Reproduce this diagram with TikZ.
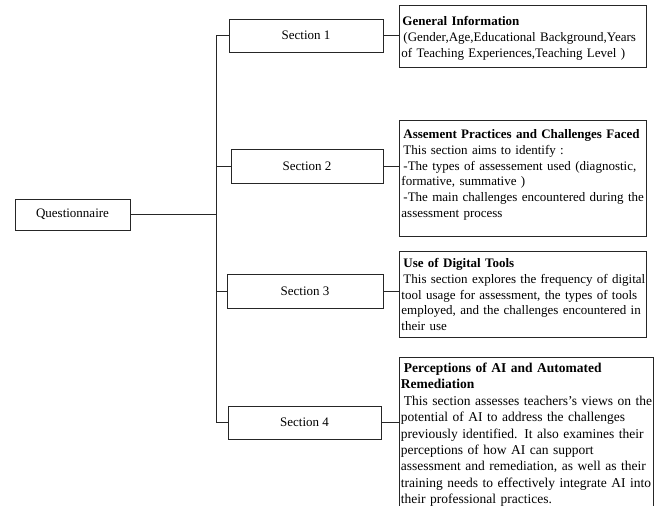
\documentclass[tikz,border=0pt]{standalone}
\usepackage{fontspec}
\setmainfont{Liberation Serif}
\newcommand\oneline[1]{\mbox{#1}}
\begin{document}
\begin{tikzpicture}[x=1pt,y=-1pt,
  every node/.style={font=\fontsize{13}{15.8}\selectfont},
  line/.style={draw=black!85,line width=0.9pt},
  secbox/.style={line, rectangle, inner sep=0pt},
  infobox/.style={line, rectangle, anchor=north west, align=left,
     inner xsep=2pt, inner ysep=0pt}
]
\useasboundingbox (0,0) rectangle (656,506);
% left box
\node[secbox, minimum width=115pt, minimum height=31pt] (q) at (72.5,214.5) {Questionnaire};
% section boxes
\node[secbox, minimum width=154pt, minimum height=33pt] (s1) at (306,35.5) {Section 1};
\node[secbox, minimum width=152pt, minimum height=34pt] (s2) at (307,166) {Section 2};
\node[secbox, minimum width=156pt, minimum height=34pt] (s3) at (305,291) {Section 3};
\node[secbox, minimum width=153pt, minimum height=33pt] (s4) at (304.5,422.5) {Section 4};
% info boxes
\node[infobox, text width=243pt, text height=20pt, text depth=42pt] (g1) at (399,5)
  {\oneline{\hspace*{1pt}\textbf{General Information}}\\
   \oneline{\hspace*{2pt}(Gender,Age,Educational Background,Years}\\
   \oneline{of Teaching Experiences,Teaching Level )}};
\node[infobox, text width=243pt, text height=18pt, text depth=98pt] (g2) at (399,120)
  {\oneline{\hspace*{2pt}\textbf{Assement Practices and Challenges Faced}}\\
   \oneline{\hspace*{2pt}This section aims to identify :}\\
   \oneline{\hspace*{2pt}-The types of assessement used (diagnostic,}\\
   \oneline{formative, summative )}\\
   \oneline{\hspace*{2pt}-The main challenges encountered during the}\\
   \oneline{assessment process}};
\node[infobox, text width=243pt, text height=16pt, text depth=70pt] (g3) at (399,251)
  {\oneline{\hspace*{2pt}\textbf{Use of Digital Tools}}\\
   \oneline{\hspace*{2pt}This section explores the frequency of digital}\\
   \oneline{tool usage for assessment, the types of tools}\\
   \oneline{employed, and the challenges encountered in}\\
   \oneline{their use}};
\node[infobox, font=\fontsize{13.5}{16.4}\selectfont, inner xsep=1.5pt,
      text width=251pt, text height=15pt, text depth=150pt] (g4) at (399,357)
  {\oneline{\hspace*{3pt}\textbf{Perceptions of AI and Automated}}\\
   \oneline{\textbf{Remediation}}\\
   \oneline{\hspace*{3pt}This section assesses teachers's views on the}\\
   \oneline{potential of AI to address the challenges}\\
   \oneline{previously identified. It also examines their}\\
   \oneline{perceptions of how AI can support}\\
   \oneline{assessment and remediation, as well as their}\\
   \oneline{training needs to effectively integrate AI into}\\
   \oneline{their professional practices.}};
% trunk
\coordinate (t) at (216,214.5);
\draw[line] (q.east) -- (t);
\draw[line] (s1.west) -- (s1.west -| t) -- (s4.west -| t) -- (s4.west);
\draw[line] (s2.west) -- (s2.west -| t);
\draw[line] (s3.west) -- (s3.west -| t);
% right connectors
\draw[line] (s1.east) -- (s1.east -| g1.west);
\draw[line] (s2.east) -- (s2.east -| g2.west);
\draw[line] (s3.east) -- (s3.east -| g3.west);
\draw[line] (s4.east) -- (s4.east -| g4.west);
\end{tikzpicture}
\end{document}
